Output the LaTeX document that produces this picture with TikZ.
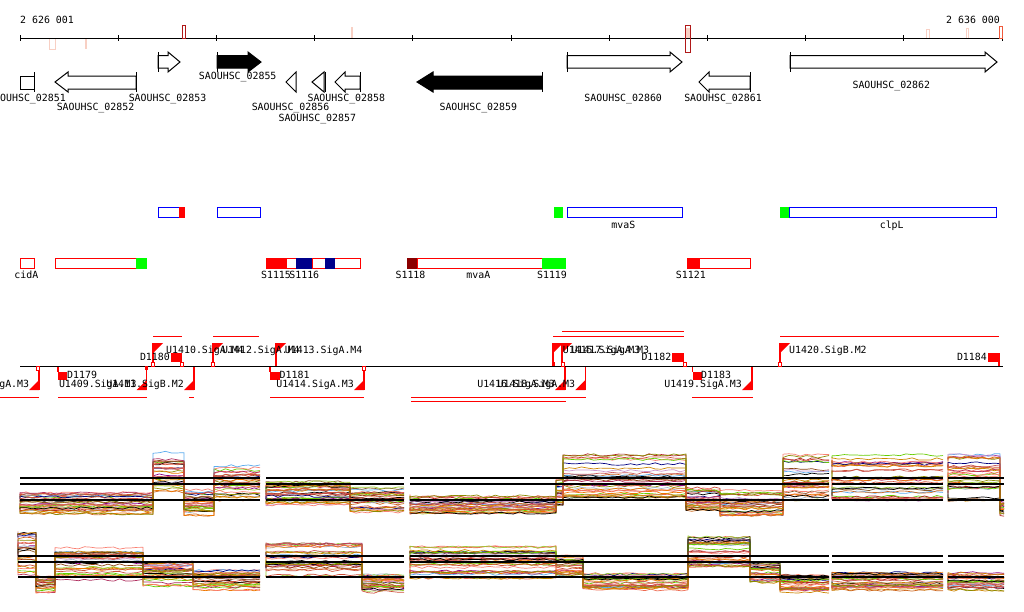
\documentclass[tikz,border=0pt]{standalone}
\usepackage{fontspec}
\setmainfont{DejaVu Sans Mono}
\definecolor{pale}{RGB}{248,208,196}
\definecolor{dkr}{RGB}{176,24,24}
\definecolor{orr}{RGB}{240,90,60}
\definecolor{navyb}{RGB}{0,0,139}
\definecolor{dred}{RGB}{139,0,0}
\definecolor{grn}{RGB}{0,255,0}
\definecolor{p1}{RGB}{205,102,29}
\definecolor{p2}{RGB}{139,139,0}
\definecolor{p3}{RGB}{102,205,0}
\definecolor{p4}{RGB}{139,0,139}
\definecolor{p5}{RGB}{250,128,114}
\definecolor{p6}{RGB}{238,106,80}
\definecolor{p7}{RGB}{92,172,238}
\definecolor{p8}{RGB}{162,181,205}
\definecolor{p9}{RGB}{205,92,92}
\definecolor{p10}{RGB}{139,69,19}
\definecolor{p11}{RGB}{238,118,0}
\definecolor{p12}{RGB}{0,0,128}
\definecolor{p13}{RGB}{0,0,0}
\definecolor{p14}{RGB}{205,150,205}
\definecolor{p15}{RGB}{178,34,34}
\definecolor{p16}{RGB}{205,133,0}
\definecolor{p17}{RGB}{139,90,43}
\definecolor{p18}{RGB}{176,48,96}
\definecolor{p19}{RGB}{205,79,57}
\definecolor{p20}{RGB}{154,205,50}
\def\pal{p1,p2,p3,p4,p5,p6,p7,p8,p9,p10,p11,p12,p13,p14,p15,p16,p17,p18,p19,p20,p1,p3,p5,p6,p9,p11,p13,p16,p19,p2}
\tikzset{
  lbl/.style={font=\fontsize{9.9}{10}\selectfont, inner sep=0pt, text height=7.2pt, text depth=0pt},
  genel/.style={draw=black, line width=1pt},
  tur/.style={red, line width=1.5pt},
  tuline/.style={red, line width=1pt},
  boxl/.style={line width=1pt},
  exl/.style={line width=0.7pt, line join=round},
  thr/.style={black, line width=1.3pt},
}
\newcommand\fgene[4][white]{%
  \draw[genel, fill=#1] (#2,55.5) -- (#3,55.5) -- (#3,52) -- (#4,62) -- (#3,72) -- (#3,68) -- (#2,68) -- cycle;
  \draw[genel] (#2,52) -- (#2,72);}
\newcommand\rgene[4][white]{%
  \draw[genel, fill=#1] (#2,82) -- (#3,72) -- (#3,76) -- (#4,76) -- (#4,89) -- (#3,89) -- (#3,92) -- cycle;
  \draw[genel] (#4,72) -- (#4,92);}
\newcommand\fflag[1]{\draw[tur] (#1,343) -- (#1,366); \fill[red] (#1,343) -- ++(10,0) -- ++(-10,10) -- cycle;}
\newcommand\rflag[1]{\draw[tur] (#1,366) -- (#1,390); \fill[red] (#1,390) -- ++(-10,0) -- ++(10,-10) -- cycle;}
\newcommand\osqa[1]{\draw[red, line width=0.8pt, fill=white] ({#1-1.5},362) rectangle ({#1+1.5},366);}
\newcommand\osqb[1]{\draw[red, line width=0.8pt, fill=white] ({#1-1.5},366) rectangle ({#1+1.5},370);}
\newcommand\exprseg[4]{%
  \foreach \cc in \pal {%
    \pgfmathsetmacro\rr{rnd}%
    \draw[exl, color=\cc] (#1,{#2+\rr*(#3-#2)})
      \foreach \xa/\xb/\yt/\yb/\nn in {#4} {
        \pgfextra{\pgfmathsetmacro\tmpr{max(0,min(1,\rr+0.35*(rnd-0.5)))}\xdef\rb{\tmpr}}
        \foreach \ii in {0,...,\nn} {
          -- ({\xa+\ii*(\xb-\xa)/\nn},{\yt+\rb*(\yb-\yt)+2.6*(rnd-0.5)})
        }
      };
  }}
\begin{document}
\begin{tikzpicture}[x=1pt,y=-1pt]
\useasboundingbox[fill=white] (0,0) rectangle (1024,611);

% ---------- coordinate axis ----------
\draw[pale, line width=0.8pt] (49,38) rectangle (55,49);
\fill[pale] (85,38) rectangle (87,49);
\fill[pale] (350.7,27) rectangle (352.7,38);
\fill[pale] (685,28) rectangle (690,39);
\draw[pale, line width=0.8pt] (926,29.5) rectangle (929,38);
\draw[pale, line width=0.8pt] (966,28.5) rectangle (968.5,38);
\draw[line width=1pt] (20,38) -- (1003,38);
\foreach \k in {0,...,10} \draw[line width=1pt] ({20+98.2*\k},35) -- ({20+98.2*\k},41);
\draw[dkr, line width=0.8pt] (182,25) rectangle (185.7,38);
\draw[dkr, line width=0.8pt] (685.7,25) rectangle (690.3,52.5);
\draw[orr, line width=0.8pt] (999,26) rectangle (1002.5,38);
\node[lbl, anchor=west] (axl) at (20,20) {2 626 001};
\node[lbl, anchor=east] (axr) at (1000,20) {2 636 000};

% ---------- genes ----------
\fgene{158}{168}{180}
\fgene[black]{217}{248}{261}
\fgene{567}{670}{682}
\fgene{790}{985}{997}
\draw[genel] (20.5,76) rectangle (34.5,89);
\draw[genel] (34.5,72) -- (34.5,92);
\rgene{55}{68}{136}
\draw[genel] (286,82) -- (296,72) -- (296,92) -- cycle;
\draw[genel] (312,82) -- (324,72) -- (324,92) -- cycle;
\draw[genel] (325,72) -- (325,92);
\rgene{335}{345}{360}
\rgene[black]{417}{433}{542}
\rgene{699}{709}{750}

\node[lbl, anchor=west] (g51) at (0,97.5) {OUHSC\_02851};
\node[lbl] (g52) at (95.5,107) {SAOUHSC\_02852};
\node[lbl] (g53) at (167.5,97.5) {SAOUHSC\_02853};
\node[lbl] (g55) at (237.7,76) {SAOUHSC\_02855};
\node[lbl] (g56) at (290.5,107) {SAOUHSC\_02856};
\node[lbl] (g57) at (317.3,117.5) {SAOUHSC\_02857};
\node[lbl] (g58) at (346.3,97.5) {SAOUHSC\_02858};
\node[lbl] (g59) at (478.3,107) {SAOUHSC\_02859};
\node[lbl] (g60) at (623.2,97.5) {SAOUHSC\_02860};
\node[lbl] (g61) at (723,97.5) {SAOUHSC\_02861};
\node[lbl] (g62) at (891.3,85) {SAOUHSC\_02862};

% ---------- annotation track (blue) ----------
\draw[blue, boxl] (158,207.5) rectangle (179,217);
\fill[red] (179,207) rectangle (185,217.5);
\draw[blue, boxl] (217,207.5) rectangle (260.5,217);
\fill[grn] (554,207) rectangle (563,217.5);
\draw[blue, boxl] (567,207.5) rectangle (682,217);
\fill[grn] (780,207) rectangle (789.5,217.5);
\draw[blue, boxl] (789.5,207.5) rectangle (996,217);
\node[lbl] (mvaS) at (623.3,224.5) {mvaS};
\node[lbl] (clpL) at (891.7,224.5) {clpL};

% ---------- annotation track (red) ----------
\draw[red, boxl] (20.5,258.5) rectangle (34.5,268.5);
\draw[red, boxl] (55.5,258.5) rectangle (136.3,268.5);
\fill[grn] (136.3,258) rectangle (147,269);
\draw[red, boxl] (266,258.5) rectangle (360.5,268.5);
\fill[red] (266,258) rectangle (287,269);
\fill[navyb] (296,258) rectangle (312,269);
\draw[red, boxl] (312,258.5) -- (312,268.5);
\fill[navyb] (325,258) rectangle (335,269);
\fill[dred] (407,258) rectangle (417.3,269);
\draw[red, boxl] (417.3,258.5) rectangle (542,268.5);
\fill[grn] (542,258) rectangle (565.7,269);
\fill[red] (686.7,258) rectangle (699,269);
\draw[red, boxl] (699,258.5) rectangle (750,268.5);
\node[lbl] (cidA) at (26.3,275.3) {cidA};
\node[lbl] (s1115) at (276,275.3) {S1115};
\node[lbl] (s1116) at (304.3,275.3) {S1116};
\node[lbl] (s1118) at (410.5,275.3) {S1118};
\node[lbl] (mvaA) at (478.3,275.3) {mvaA};
\node[lbl] (s1119) at (552,275.3) {S1119};
\node[lbl] (s1121) at (690.8,275.3) {S1121};

% ---------- transcription units ----------
\draw[tuline] (153,336) -- (182,336);
\draw[tuline] (213,336) -- (259,336);
\draw[tuline] (553,336) -- (684,336);
\draw[tuline] (562,331) -- (684,331);
\draw[tuline] (780,336) -- (999,336);
\draw[tuline] (0,397) -- (39,397);
\draw[tuline] (58,397) -- (147,397);
\draw[tuline] (189,397) -- (194,397);
\draw[tuline] (270,397) -- (364,397);
\draw[tuline] (411,397) -- (586,397);
\draw[tuline] (411,401) -- (566,401);
\draw[tuline] (692,397) -- (753,397);

\fflag{153} \fflag{213} \fflag{276} \fflag{553} \fflag{562} \fflag{780}
\rflag{39} \rflag{146.7} \rflag{194} \rflag{364} \rflag{565} \rflag{585.3} \rflag{752}

% terminators
\fill[red] (171,353) rectangle (182,362);
\fill[red] (672.3,353) rectangle (684,362);
\fill[red] (988,353) rectangle (999,362);
\draw[tur] (999,353) -- (999,366);
\draw[tur] (58,366) -- (58,372);
\fill[red] (58,371.5) rectangle (67,380);
\draw[tur] (270,366) -- (270,372);
\fill[red] (270,371.5) rectangle (279.5,380);
\draw[tur] (692.5,366) -- (692.5,372);
\fill[red] (692.5,371.5) rectangle (702,380);

\draw[line width=1pt] (20,366) -- (1003,366);
\osqa{153} \osqa{181.5} \osqa{213} \osqa{562.5} \osqa{684.5} \osqa{780}
\osqb{38} \osqb{364}
\fill[red] (145,366) rectangle (148,370);
\fill[red] (552,362) rectangle (555,366);

\node[lbl, anchor=east] (d1180) at (170,356.5) {D1180};
\node[lbl, anchor=east] (d1182) at (671.5,357) {D1182};
\node[lbl, anchor=east] (d1184) at (987,357) {D1184};
\node[lbl, anchor=west] (d1179) at (67,374.5) {D1179};
\node[lbl, anchor=west] (d1181) at (279.5,374.5) {D1181};
\node[lbl, anchor=west] (d1183) at (701,375) {D1183};

\node[lbl, anchor=west] (u1410) at (166,349.7) {U1410.SigA.M4};
\node[lbl, anchor=west] (u1412) at (222,349.7) {U1412.SigA.M4};
\node[lbl, anchor=west] (u1413) at (284.7,349.7) {U1413.SigA.M4};
\node[lbl, anchor=west] (u1415) at (562.7,349.7) {U1415.SigA.M3};
\node[lbl, anchor=west] (u1417) at (571.3,349.7) {U1417.SigA.M3};
\node[lbl, anchor=west] (u1420) at (789,350) {U1420.SigB.M2};
\node[lbl, anchor=east] (u1408) at (29.3,383.7) {gA.M3};
\node[lbl, anchor=east] (u1409) at (136.7,383.7) {U1409.SigA.M3};
\node[lbl, anchor=east] (u1411) at (184,383.7) {U1411.SigB.M2};
\node[lbl, anchor=east] (u1414) at (354,383.7) {U1414.SigA.M3};
\node[lbl, anchor=east] (u1416) at (555,383.7) {U1416.SigA.M3};
\node[lbl, anchor=east] (u1418) at (575.3,383.7) {U1418.SigA.M3};
\node[lbl, anchor=east] (u1419) at (742,383.7) {U1419.SigA.M3};

% ---------- expression profiles ----------
\pgfmathsetseed{11}
\exprseg{20}{493}{514}{20/153/493/514/22, 153/184/452/492/5, 184/214/490/515/5, 214/260/466/500/8}
\exprseg{266}{482}{505}{266/350/482/505/14, 350/404/488/512/9}
\exprseg{410}{494}{513}{410/556/494/513/24, 556/563/480/505/1, 563/686/455/497/20, 686/720/486/510/6, 720/783/490/515/10, 783/829/455/500/8}
\exprseg{832}{455}{500}{832/943/455/500/18}
\exprseg{948}{455}{500}{948/1000/455/500/9, 1000/1004/500/515/1}
\exprseg{18}{531}{575}{18/36/531/575/3, 36/55/576/592/3, 55/143/548/580/15, 143/193/562/586/8, 193/260/570/590/11}
\exprseg{266}{544}{578}{266/362/544/578/16, 362/404/575/592/7}
\exprseg{410}{547}{578}{410/556/547/578/24, 556/583/556/576/5, 583/688/574/590/17, 688/750/537/566/10, 750/780/563/582/5, 780/829/575/592/8}
\exprseg{832}{573}{590}{832/943/573/590/18}
\exprseg{948}{573}{590}{948/1004/573/590/9}

\foreach \xa/\xb in {20/260,266/404,410/829,832/943,948/1004}
  \foreach \yy in {478,484,500} \draw[thr] (\xa,\yy) -- (\xb,\yy);
\foreach \xa/\xb in {18/260,266/404,410/829,832/943,948/1004}
  \foreach \yy in {556,562,577} \draw[thr] (\xa,\yy) -- (\xb,\yy);
\end{tikzpicture}
\end{document}
